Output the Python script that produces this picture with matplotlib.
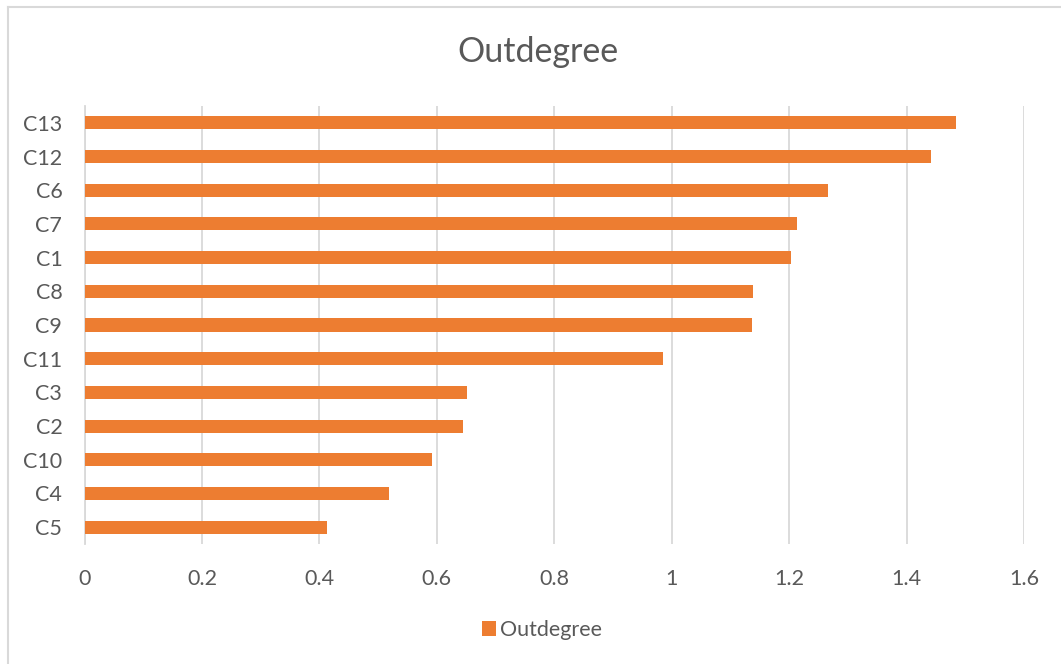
# Horizontal bar chart of outdegree per node

import matplotlib.pyplot as plt
from matplotlib.lines import Line2D

nodes = ["C13", "C12", "C6", "C7", "C1", "C8", "C9",
         "C11", "C3", "C2", "C10", "C4", "C5"]
outdegree = [1.484, 1.441, 1.266, 1.214, 1.204, 1.139, 1.136,
             0.985, 0.651, 0.645, 0.592, 0.519, 0.413]
xticks = [0, 0.2, 0.4, 0.6, 0.8, 1, 1.2, 1.4, 1.6]
xticklabels = ["0", "0.2", "0.4", "0.6", "0.8", "1", "1.2", "1.4", "1.6"]

orange = "#ED7D31"
grey_text = "#595959"
grid_grey = "#D9D9D9"

plt.rcParams["font.family"] = ["Lato", "DejaVu Sans"]

fig = plt.figure(figsize=(10.61, 6.64), dpi=100)
ax = fig.add_axes([84.5 / 1061, 1 - 544 / 664, (1024 - 84.5) / 1061, (544 - 106) / 664])

pos = list(range(len(nodes)))[::-1]
ax.barh(pos, outdegree, height=0.39, color=orange, label="Outdegree", zorder=3)

ax.set_xlim(0, 1.6)
ax.set_ylim(-0.5, len(nodes) - 0.5)
ax.set_xticks(xticks)
ax.set_xticklabels(xticklabels)
ax.set_yticks(pos)
ax.set_yticklabels(nodes)
ax.tick_params(axis="both", length=0, labelsize=15.5, labelcolor=grey_text)
ax.tick_params(axis="y", pad=16)
ax.tick_params(axis="x", pad=18)
ax.grid(axis="x", color=grid_grey, linewidth=1.3, zorder=0)
for side in ["top", "right", "bottom"]:
    ax.spines[side].set_visible(False)
ax.spines["left"].set_color(grid_grey)
ax.spines["left"].set_linewidth(1.3)

fig.text(538 / 1061, 1 - 52 / 664, "Outdegree", ha="center", va="center",
         fontsize=24.5, color=grey_text)

fig.legend(loc="center", bbox_to_anchor=(542 / 1061, 1 - 630 / 664), frameon=False,
           fontsize=15.5, labelcolor=grey_text, handlelength=0.65, handleheight=0.65,
           handletextpad=0.15)

# chart-area border, top and left edges only
fig.add_artist(Line2D([7.5 / 1061, 1], [1 - 7 / 664, 1 - 7 / 664],
                      transform=fig.transFigure, color=grid_grey, linewidth=1.5))
fig.add_artist(Line2D([7.5 / 1061, 7.5 / 1061], [0, 1 - 7 / 664],
                      transform=fig.transFigure, color=grid_grey, linewidth=1.5))

fig.savefig("out.png", dpi=100)
